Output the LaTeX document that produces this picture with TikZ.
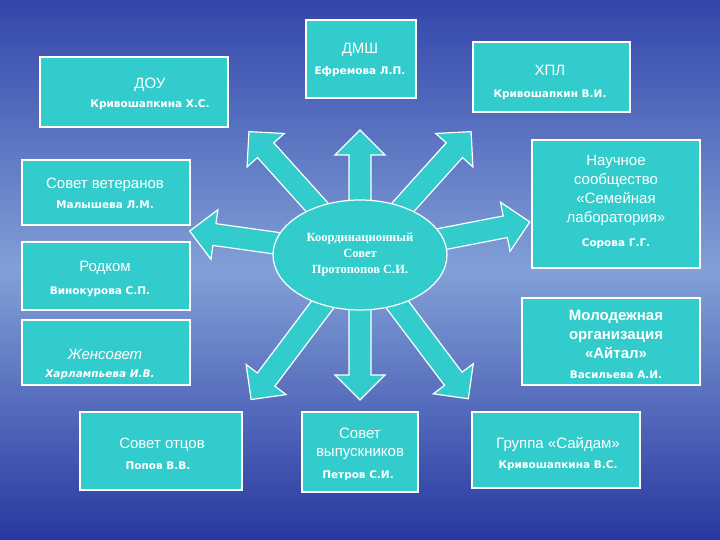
\documentclass[tikz,border=0pt]{standalone}
\usepackage{fontspec}
\usetikzlibrary{shapes.geometric}
\setmainfont{Liberation Sans}
\newfontfamily\namefont{DejaVu Sans}
\newfontfamily\serfont{Liberation Serif}
\definecolor{turq}{RGB}{51,204,204}
\definecolor{bgtop}{RGB}{50,70,170}
\definecolor{bgmid}{RGB}{130,160,215}
\definecolor{bgbot}{RGB}{40,55,160}
\begin{document}
\begin{tikzpicture}[x=1pt,y=1pt,
  box/.style={fill=turq,draw=white,line width=1.2pt},
  ttl/.style={text=white,font=\fontsize{15}{17}\selectfont,align=center},
  nm/.style={text=white,font=\namefont\bfseries\fontsize{10.5}{12}\selectfont,align=center},
  barrow/.style={fill=turq,draw=white,line width=1.2pt}]
\shade[top color=bgtop,bottom color=bgbot,middle color=bgmid] (0,0) rectangle (720,540);
\useasboundingbox (0,0) rectangle (720,540);
\foreach \a/\l in {90/125,172/172,11/173,132/166,48/166,233/181,270/145,307/180}{
  \begin{scope}[shift={(360,285)},rotate=\a]
    \draw[barrow] (0,-11) -- (\l-25,-11) -- (\l-25,-25) -- (\l,0) -- (\l-25,25) -- (\l-25,11) -- (0,11) -- cycle;
  \end{scope}}
\node[box,ellipse,minimum width=174,minimum height=110,inner sep=0] (c) at (360,285) {};
\node[text=white,font=\serfont\bfseries\fontsize{12.5}{16}\selectfont,align=center] (ct) at (360,285) {Координационный\\Совет\\Протопопов С.И.};
\draw[box] (40,413) rectangle (228,483); \node[ttl] (b1) at (150,455) {ДОУ}; \node[nm] (n1) at (150,435) {Кривошапкина Х.С.};
\draw[box] (306,442) rectangle (416,520); \node[ttl] (b2) at (360,490) {ДМШ}; \node[nm] (n2) at (360,468) {Ефремова Л.П.};
\draw[box] (473,428) rectangle (630,498); \node[ttl] (b3) at (550,470) {ХПЛ}; \node[nm] (n3) at (550,445) {Кривошапкин В.И.};
\draw[box] (22,315) rectangle (190,380); \node[ttl] (b4) at (105,355) {Совет ветеранов}; \node[nm] (n4) at (105,335) {Малышева Л.М.};
\draw[box] (532,272) rectangle (700,400); \node[ttl,text width=170,font=\fontsize{15}{19}\selectfont] (b5) at (616,350) {Научное\\сообщество\\«Семейная\\лаборатория»}; \node[nm] (n5) at (616,296) {Сорова Г.Г.};
\draw[box] (22,230) rectangle (190,298); \node[ttl] (b6) at (105,272) {Родком}; \node[nm] (n6) at (100,248) {Винокурова С.П.};
\draw[box] (522,155) rectangle (700,242); \node[ttl,font=\bfseries\fontsize{15}{19}\selectfont] (b7) at (616,206) {Молодежная\\организация\\«Айтал»}; \node[nm] (n7) at (616,165) {Васильева А.И.};
\draw[box] (22,155) rectangle (190,220); \node[ttl,font=\itshape\fontsize{15}{17}\selectfont] (b8) at (105,186) {Женсовет}; \node[nm,font=\namefont\bfseries\itshape\fontsize{10.5}{12}\selectfont] (n8) at (100,165) {Харлампьева И.В.};
\draw[box] (80,50) rectangle (242,128); \node[ttl] (b9) at (162,95) {Совет отцов}; \node[nm] (n9) at (158,74) {Попов В.В.};
\draw[box] (302,48) rectangle (418,128); \node[ttl,font=\fontsize{15}{18}\selectfont] (b10) at (360,96) {Совет\\выпускников}; \node[nm] (n10) at (358,64) {Петров С.И.};
\draw[box] (472,52) rectangle (640,128); \node[ttl] (b11) at (558,96) {Группа «Сайдам»}; \node[nm] (n11) at (558,74) {Кривошапкина В.С.};
\end{tikzpicture}
\end{document}
